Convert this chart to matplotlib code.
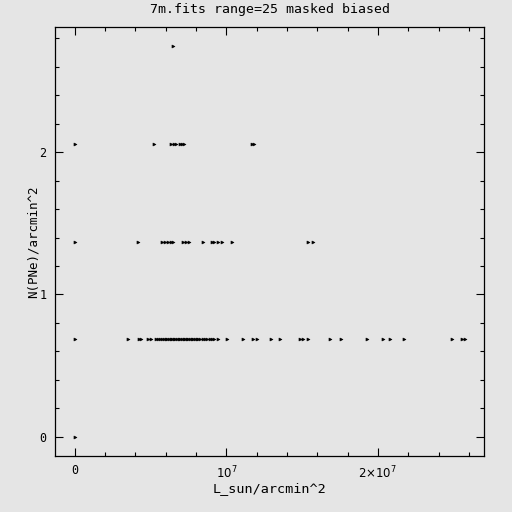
import numpy as np
import matplotlib
matplotlib.use("Agg")
from matplotlib import pyplot as plt
from matplotlib.ticker import MultipleLocator, FixedLocator

# luminosity values in units of 1e6 L_sun/arcmin^2, one list per density level
step = 0.686
x_row0 = [0.0]
x_row1 = [0.0, 3.54, 4.26, 4.38, 4.86, 5.04, 5.38, 5.52, 5.63, 5.76, 5.9, 6.02,
          6.12, 6.24, 6.33, 6.45, 6.56, 6.64, 6.77, 6.85, 6.97, 7.06, 7.18, 7.27,
          7.39, 7.48, 7.6, 7.71, 7.8, 7.92, 8.05, 8.16, 8.29, 8.44, 8.6, 8.73,
          8.9, 9.06, 9.2, 9.42, 10.03, 11.09, 11.79, 12.01, 12.94, 13.55, 14.87,
          15.09, 15.42, 16.85, 17.56, 19.27, 20.37, 20.81, 21.74, 24.88, 25.54,
          25.76]
x_row2 = [0.0, 4.2, 5.74, 5.96, 6.18, 6.34, 6.51, 7.13, 7.35, 7.57, 8.45, 9.04,
          9.2, 9.48, 9.7, 10.36, 15.42, 15.75]
x_row3 = [0.0, 5.24, 6.34, 6.55, 6.69, 6.95, 7.08, 7.22, 11.68, 11.85]
x_row4 = [6.47]
rows = [x_row0, x_row1, x_row2, x_row3, x_row4]

title = "7m.fits range=25 masked biased"
xlabel = "L_sun/arcmin^2"
ylabel = "N(PNe)/arcmin^2"
xtick_vals = [0, 1e7, 2e7]
xtick_labels = ["0", r"$10^7$", r"$2{\times}10^7$"]
ytick_vals = [0, 1, 2]

bg = "#e5e5e5"
plt.rcParams["font.family"] = ["DejaVu Sans Mono"]
fig = plt.figure(figsize=(5.12, 5.12), dpi=100, facecolor=bg)
ax = fig.add_axes([55/512, 56/512, 429/512, 429/512], facecolor=bg)

for k, xs in enumerate(rows):
    xs = np.array(xs) * 1e6
    ax.plot(xs, np.full(len(xs), k * step), ls="none", marker=">",
            ms=2.2, mfc="black", mec="black", mew=0.4)

ax.set_xlim(-1.3e6, 2.70e7)
ax.set_ylim(-0.136, 2.88)
ax.xaxis.set_major_locator(FixedLocator(xtick_vals))
ax.set_xticklabels(xtick_labels)
ax.xaxis.set_minor_locator(MultipleLocator(2e6))
ax.yaxis.set_major_locator(FixedLocator(ytick_vals))
ax.yaxis.set_minor_locator(MultipleLocator(0.2))
ax.tick_params(which="both", direction="in", top=True, right=True,
               colors="black", labelsize=8.5, width=0.8)
ax.tick_params(which="major", length=6, pad=6)
ax.tick_params(which="minor", length=3)
for s in ax.spines.values():
    s.set_linewidth(0.9)

ax.set_title(title, fontsize=9.5, pad=10)
ax.set_xlabel(xlabel, fontsize=9.7, labelpad=1)
ax.set_ylabel(ylabel, fontsize=9, labelpad=0)

fig.savefig("out.png", dpi=100, facecolor=bg)
